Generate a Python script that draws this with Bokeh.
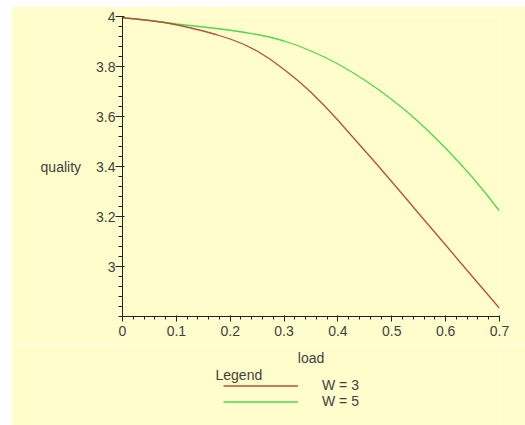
from bokeh.plotting import figure
from bokeh.layouts import column
from bokeh.models import FixedTicker, Legend, LegendItem
from bokeh.core.properties import value
from bokeh.embed import file_html
from bokeh.resources import INLINE

# Data: quality as a function of load for two window sizes
load = [0.0, 0.025, 0.05, 0.075, 0.1, 0.125, 0.15, 0.175, 0.2, 0.225,
        0.25, 0.275, 0.3, 0.325, 0.35, 0.375, 0.4, 0.425, 0.45, 0.475,
        0.5, 0.525, 0.55, 0.575, 0.6, 0.625, 0.65, 0.675, 0.7]
quality_w3 = [3.995, 3.990, 3.984, 3.977, 3.967, 3.955, 3.942, 3.927, 3.910, 3.889,
              3.862, 3.828, 3.788, 3.745, 3.697, 3.643, 3.585, 3.524, 3.463, 3.402,
              3.339, 3.276, 3.212, 3.149, 3.086, 3.022, 2.959, 2.896, 2.833]
quality_w5 = [3.995, 3.990, 3.984, 3.977, 3.970, 3.964, 3.958, 3.952, 3.945, 3.937,
              3.928, 3.917, 3.902, 3.884, 3.862, 3.838, 3.810, 3.779, 3.745, 3.708,
              3.668, 3.625, 3.578, 3.527, 3.473, 3.416, 3.356, 3.291, 3.222]

x_ticks = [0, 0.1, 0.2, 0.3, 0.4, 0.5, 0.6, 0.7]
y_ticks = [3, 3.2, 3.4, 3.6, 3.8, 4]
series_labels = ["W = 3", "W = 5"]
x_title = "load"
y_title = "quality"
legend_title = "Legend"

FONT = "Liberation Sans"
TEXT = "#3f3f3f"
CREAM = "#fffdcb"
RED = "#b4503c"
GREEN = "#4fd84a"

# Main plot area
p = figure(
    width=514, height=339,
    x_range=(0, 0.7), y_range=(2.8, 4.0),
    output_backend="svg", toolbar_location=None,
    background_fill_color=CREAM, border_fill_color=CREAM,
    min_border_left=111, min_border_right=26,
    min_border_top=10, min_border_bottom=29,
    margin=(6, 0, 0, 11),
)
p.outline_line_color = None
p.grid.visible = False

x_minor = [round(i * 0.02, 2) for i in range(36)]
y_minor = [round(2.8 + i * 0.04, 2) for i in range(31)]
p.xaxis.ticker = FixedTicker(ticks=x_ticks, minor_ticks=x_minor)
p.yaxis.ticker = FixedTicker(ticks=y_ticks, minor_ticks=y_minor)
p.xaxis.major_label_overrides = {0: "0"}
p.yaxis.major_label_overrides = {3: "3", 4: "4"}

for ax in (p.xaxis[0], p.yaxis[0]):
    ax.axis_line_color = "#222222"
    ax.major_tick_line_color = "#222222"
    ax.minor_tick_line_color = "#222222"
    ax.major_label_text_font = FONT
    ax.major_label_text_font_size = "14px"
    ax.major_label_text_color = TEXT
    ax.axis_label_text_font = FONT
    ax.axis_label_text_font_size = "14px"
    ax.axis_label_text_font_style = "normal"
    ax.axis_label_text_color = TEXT

p.xaxis.major_tick_out = 5
p.xaxis.major_tick_in = 1
p.xaxis.minor_tick_out = 3
p.xaxis.minor_tick_in = 0
p.xaxis.major_label_standoff = 4

p.yaxis.major_tick_out = 7
p.yaxis.major_tick_in = 2
p.yaxis.minor_tick_out = 4
p.yaxis.minor_tick_in = 0
p.yaxis.major_label_standoff = 0
p.yaxis.axis_label = y_title
p.yaxis.axis_label_orientation = "horizontal"
p.yaxis.axis_label_standoff = 12

p.line(load, quality_w5, line_color=GREEN, line_width=1.3)
p.line(load, quality_w3, line_color=RED, line_width=1.3)

# Strip below the plot: x-axis title and legend.
# Its frame lines up with the main frame horizontally, so x is in load units;
# y counts pixels downwards from the top of the strip.
q = figure(
    width=514, height=80,
    x_range=(0, 0.7), y_range=(80, 0),
    output_backend="svg", toolbar_location=None,
    x_axis_location=None, y_axis_location=None,
    background_fill_color=CREAM, border_fill_color=CREAM,
    min_border_left=111, min_border_right=26,
    min_border_top=0, min_border_bottom=0,
    margin=(0, 0, 0, 11),
)
q.outline_line_color = None
q.grid.visible = False

q.text(x=[0.35], y=[12], text=[x_title], text_align="center",
       text_baseline="middle", text_font=value(FONT),
       text_font_size="14px", text_color=TEXT)
q.text(x=[0.1727], y=[29], text=[legend_title], text_align="left",
       text_baseline="middle", text_font=value(FONT),
       text_font_size="14px", text_color=TEXT)

# Series renderers kept hidden here; they only supply the legend swatches
k3 = q.line(load, quality_w3, line_color=RED, line_width=1.3, visible=False)
k5 = q.line(load, quality_w5, line_color=GREEN, line_width=1.3, visible=False)
legend = Legend(
    items=[LegendItem(label=series_labels[0], renderers=[k3]),
           LegendItem(label=series_labels[1], renderers=[k5])],
    location=(101, 16),
    padding=0, margin=0, spacing=0,
    glyph_width=75, glyph_height=15, label_height=15, label_width=40,
    label_standoff=24,
    label_text_font=FONT, label_text_font_size="14px", label_text_color=TEXT,
    border_line_color=None, background_fill_alpha=0,
    inactive_fill_alpha=0,
)
q.add_layout(legend, "center")

layout = column(p, q, spacing=0)
open("out.html", "w").write(file_html(layout, INLINE))
